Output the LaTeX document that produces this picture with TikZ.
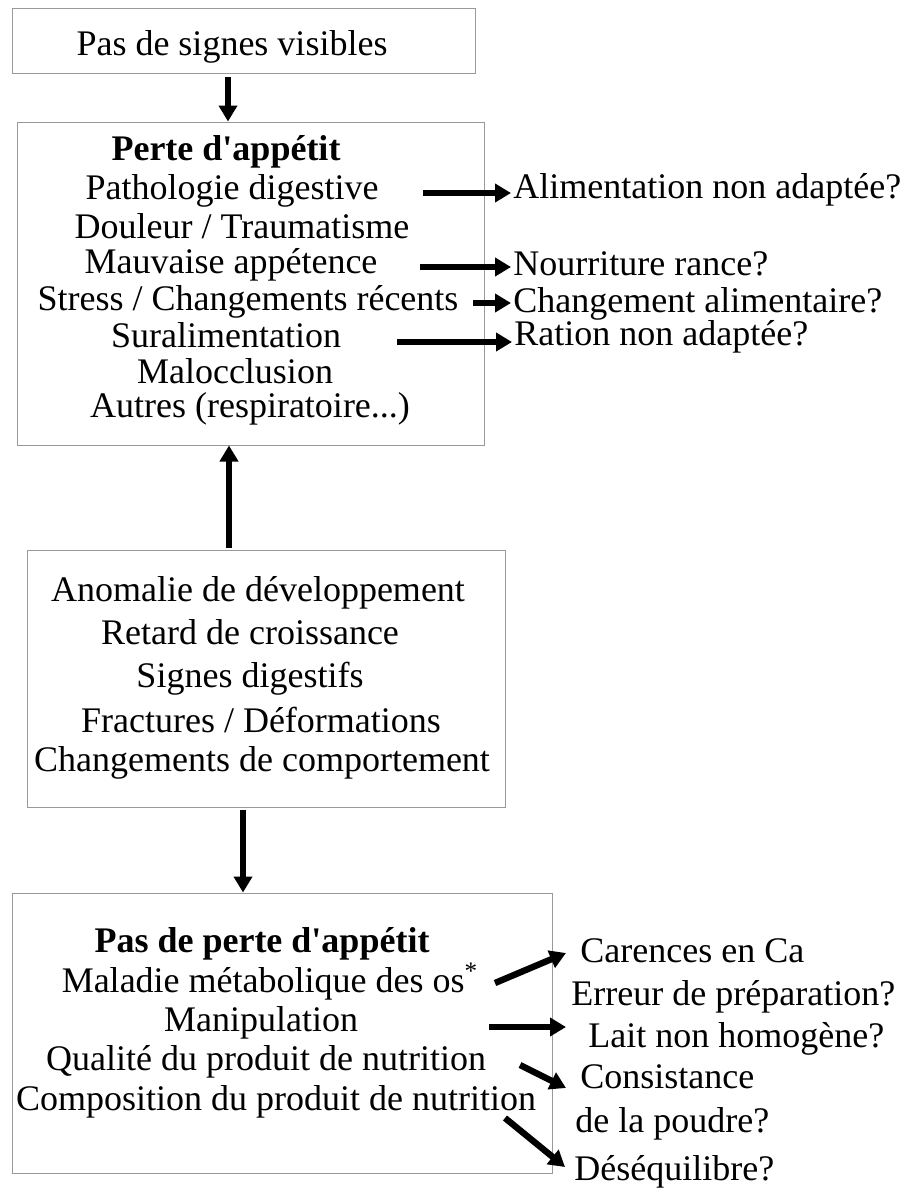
\documentclass[tikz,border=0pt]{standalone}
\usepackage{fontspec}
\setmainfont{Liberation Serif}
\usetikzlibrary{arrows.meta}

\begin{document}
\begin{tikzpicture}[x=0.5pt,y=-0.5pt,
    boite/.style={draw=black!40,line width=0.5pt,inner sep=0pt},
    txt/.style={anchor=base,inner sep=0pt,font=\fontsize{18}{21}\selectfont},
    cause/.style={txt,anchor=base west,inner sep=1pt},
    fleche/.style={line width=3.2pt,-{Triangle[length=8pt,width=9pt]}}]
  \useasboundingbox (0,0) rectangle (904,1189);

  % boites
  \node[boite,minimum width=231.5pt,minimum height=32.5pt] (signes) at (243.5,40.5) {};
  \node[boite,minimum width=233.5pt,minimum height=161.5pt] (perte) at (250.5,283.5) {};
  \node[boite,minimum width=239pt,minimum height=128.5pt] (anomalie) at (266,678.5) {};
  \node[boite,minimum width=270pt,minimum height=140pt] (pasperte) at (282,1033) {};

  % textes des boites
  \node[txt] (t0) at (232,55) {Pas de signes visibles};

  \node[txt,font=\fontsize{18}{21}\selectfont\bfseries] (p0) at (226,160) {Perte d\textquotesingle appétit};
  \node[txt] (p1) at (232,199) {Pathologie digestive};
  \node[txt] (p2) at (242,238) {Douleur / Traumatisme};
  \node[txt] (p3) at (231,273) {Mauvaise appétence};
  \node[txt] (p4) at (248,310) {Stress / Changements récents};
  \node[txt] (p5) at (226,347) {Suralimentation};
  \node[txt] (p6) at (235,383) {Malocclusion};
  \node[txt] (p7) at (250,417) {Autres (respiratoire...)};

  \node[txt] (a1) at (258,601) {Anomalie de développement};
  \node[txt] (a2) at (250,644) {Retard de croissance};
  \node[txt] (a3) at (250,687) {Signes digestifs};
  \node[txt] (a4) at (261,732) {Fractures / Déformations};
  \node[txt] (a5) at (262,771) {Changements de comportement};

  \node[txt,font=\fontsize{18}{21}\selectfont\bfseries] (n0) at (262,952) {Pas de perte d\textquotesingle appétit};
  \node[txt] (n1) at (270,992) {Maladie métabolique des os\textsuperscript{*}};
  \node[txt] (n2) at (261,1031) {Manipulation};
  \node[txt] (n3) at (266,1070) {Qualité du produit de nutrition};
  \node[txt] (n4) at (276,1110) {Composition du produit de nutrition};

  % causes a droite
  \node[cause] (alim) at (511,198) {Alimentation non adaptée?};
  \node[cause] (rance) at (511,275) {Nourriture rance?};
  \node[cause] (chgt) at (511,312) {Changement alimentaire?};
  \node[cause] (ration) at (512,345) {Ration non adaptée?};

  \node[cause] (ca) at (578,962) {Carences en Ca};
  \node[cause] (erreur) at (569,1005) {Erreur de préparation?};
  \node[cause] (lait) at (586,1047) {Lait non homogène?};
  \node[cause] (consist) at (578,1088) {Consistance};
  \node[cause] (poudre) at (573,1132) {de la poudre?};
  \node[cause] (deseq) at (572,1180) {Déséquilibre?};

  % fleches verticales
  \coordinate (v1) at (228,77);
  \coordinate (v2) at (229,548);
  \coordinate (v3) at (243,810);
  \draw[fleche] (v1) -- (v1 |- perte.north);
  \draw[fleche] (v2) -- (v2 |- perte.south);
  \draw[fleche] (v3) -- (v3 |- pasperte.north);

  % fleches vers les causes
  \coordinate (h1) at (423,193);
  \coordinate (h2) at (420,267);
  \coordinate (h3) at (473,303);
  \coordinate (h4) at (397,342);
  \draw[fleche] (h1) -- (h1 -| alim.west);
  \draw[fleche] (h2) -- (h2 -| rance.west);
  \draw[fleche] (h3) -- (h3 -| chgt.west);
  \draw[fleche] (h4) -- (h4 -| ration.west);

  \coordinate (b1) at (495,983);
  \coordinate (c1) at (566,953);
  \coordinate (b2) at (489,1027);
  \coordinate (c2) at (566,1027);
  \coordinate (b3) at (520,1065);
  \coordinate (c3) at (566,1088);
  \coordinate (b4) at (505,1118);
  \coordinate (c4) at (565,1167);
  \draw[fleche] (b1) -- (c1);
  \draw[fleche] (b2) -- (c2);
  \draw[fleche] (b3) -- (c3);
  \draw[fleche] (b4) -- (c4);
\end{tikzpicture}
\end{document}
